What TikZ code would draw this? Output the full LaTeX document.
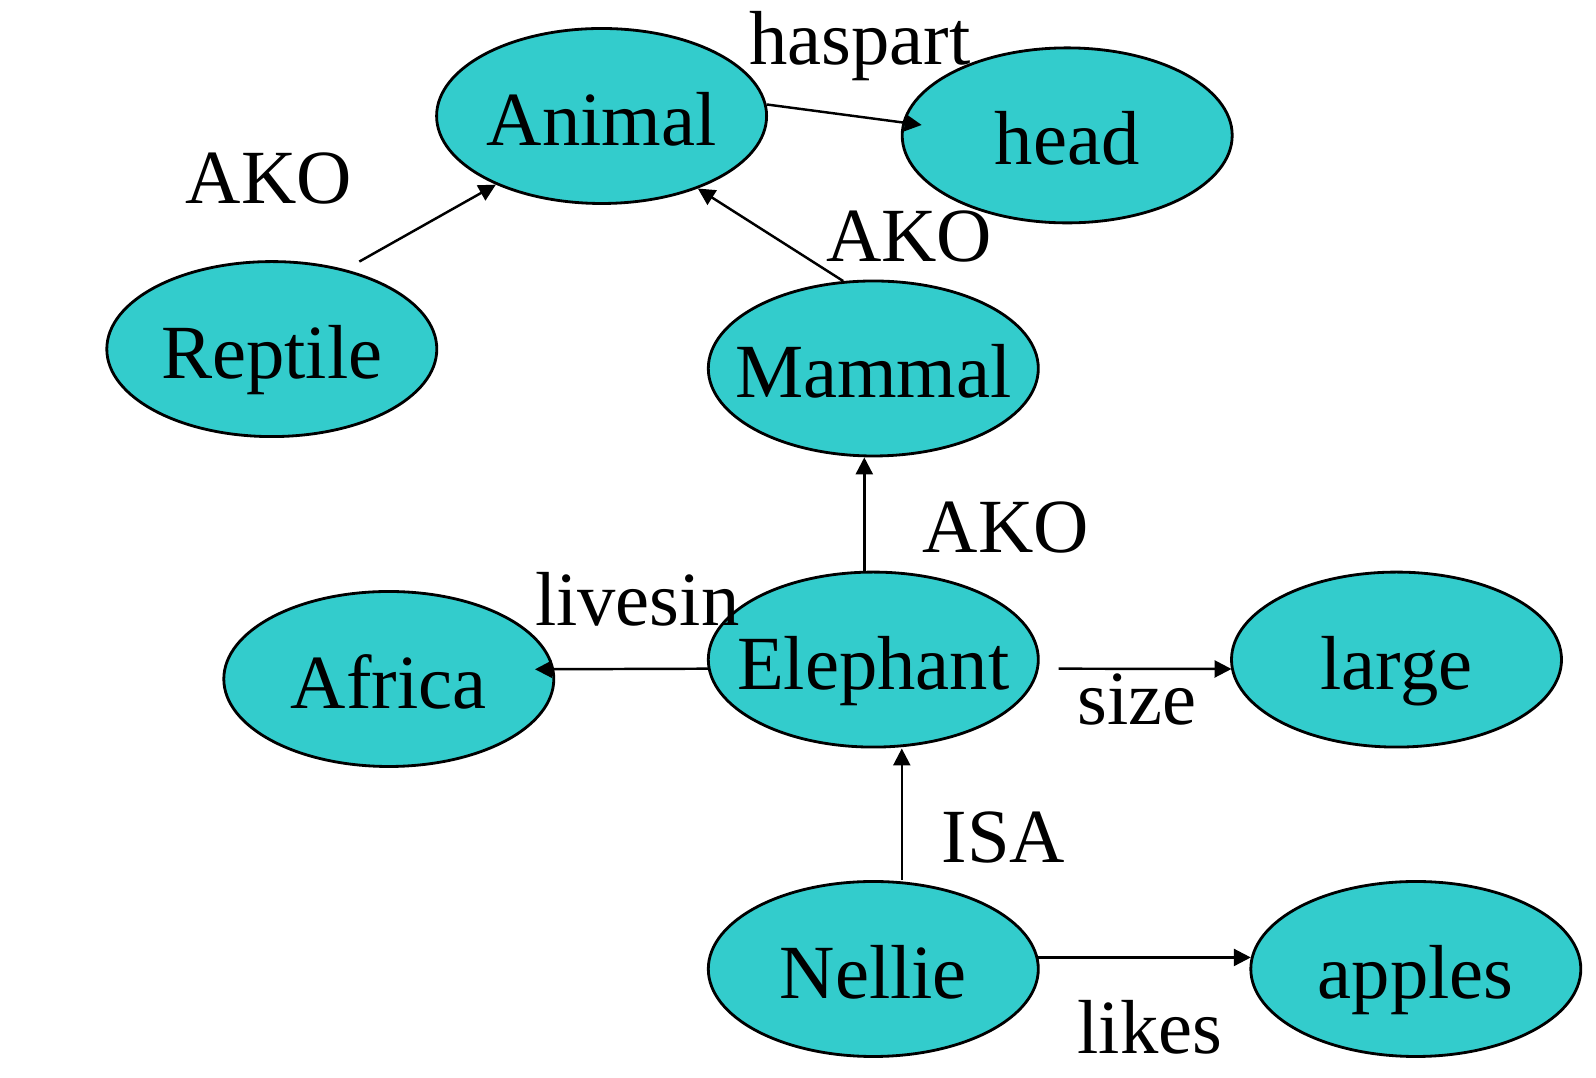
\documentclass[tikz,border=0pt]{standalone}
\usepackage{fontspec}
\setmainfont{Liberation Serif}
\usetikzlibrary{shapes.geometric, arrows.meta, calc}
\definecolor{conceptfill}{RGB}{51,204,204}
\tikzset{
  concept/.style={ellipse, draw, line width=0.8pt, fill=conceptfill,
    minimum width=3.3cm, minimum height=1.75cm, inner sep=0pt,
    text height=0.59cm, text depth=0pt},
  relation/.style={anchor=base, inner sep=0pt},
  link/.style={-{Triangle[length=0.17cm, width=0.17cm]}, line width=0.7pt},
}

\begin{document}
\begin{tikzpicture}[font=\fontsize{21.8pt}{26pt}\selectfont]
\useasboundingbox (0,0) rectangle (15.96,-10.78);

% Concepts
\foreach \name/\x/\y/\txt in {animal/6.016/-1.16/Animal, head/10.672/-1.354/head,
    reptile/2.718/-3.491/Reptile, mammal/8.733/-3.685/Mammal,
    africa/3.888/-6.79/Africa, elephant/8.733/-6.596/Elephant,
    large/13.965/-6.596/large, nellie/8.733/-9.69/Nellie,
    apples/14.158/-9.69/apples} {
  \node[concept] (\name) at (\x,\y) {\makebox[0pt]{\txt}};
}

% Links
\draw[link] ($(reptile)+(0.875,0.875)$) -- (animal.-147);
\draw[link] (mammal.109) -- (animal.-37);
\draw[link] (animal.4) -- ($(head)+(-1.455,0.104)$);
\draw[link] ($(elephant.north)+(-0.09,0)$) -- ($(mammal.south)+(-0.09,0)$);
\draw[link] ($(elephant)+(-1.649,-0.091)$) -- ($(africa)+(1.462,0.097)$);
\draw[link] ($(elephant)+(1.853,-0.091)$) -- ($(large)+(-1.65,-0.094)$);
\draw[link] ($(nellie.north)+(0.285,0)$) -- ($(elephant.south)+(0.285,0)$);
\draw[link] (nellie.4) -- (apples.176);

% Relation labels
\foreach \name/\x/\y/\txt in {haspartlbl/8.60/-0.647/haspart, akoreptile/2.687/-2.036/AKO,
    akomammal/9.09/-2.616/AKO, akoelephant/10.057/-5.527/AKO,
    livesinlbl/6.372/-6.26/livesin, sizelbl/11.37/-7.247/size,
    isalbl/10.036/-8.63/ISA, likeslbl/11.50/-10.535/likes} {
  \node[relation] (\name) at (\x,\y) {\txt};
}
\end{tikzpicture}
\end{document}
